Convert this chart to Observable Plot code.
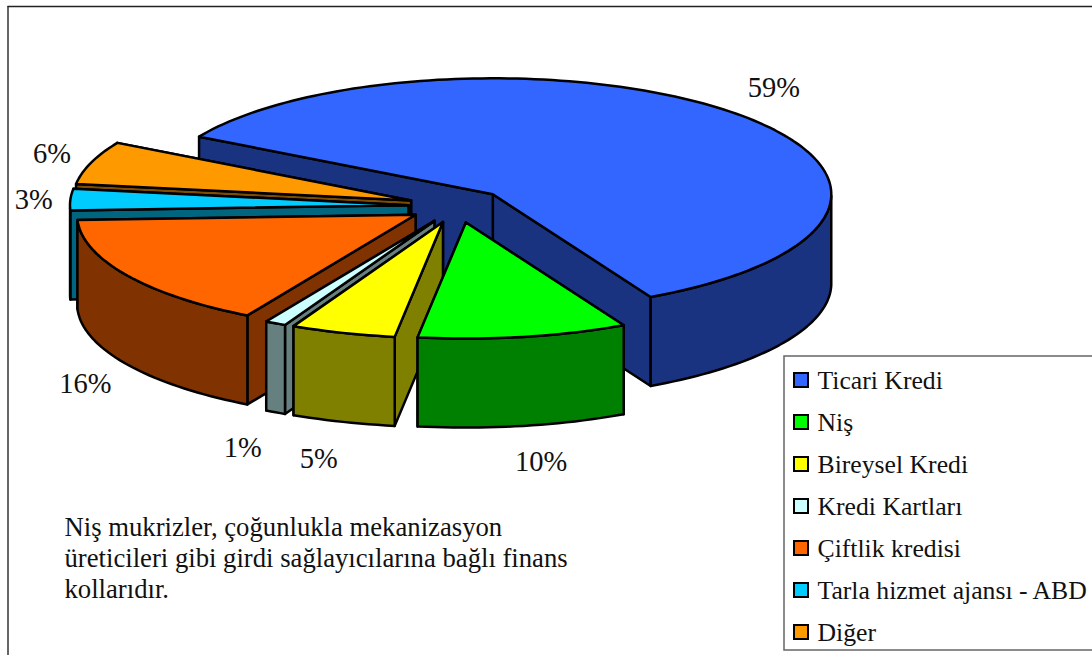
<!DOCTYPE html>
<html lang="tr">
<head>
<meta charset="utf-8">
<style>html,body{margin:0;padding:0;background:#fff;overflow:hidden}svg{display:block}</style>
<script src="https://cdn.jsdelivr.net/npm/d3@7"></script>
<script src="https://cdn.jsdelivr.net/npm/@observablehq/plot@0.6"></script>
</head>
<body>
<div id="chart"></div>
<script>
// Data, clockwise from the back-left edge of the pie
const names = ["Ticari Kredi","Niş","Bireysel Kredi","Kredi Kartları","Çiftlik kredisi","Tarla hizmet ajansı - ABD","Diğer"];
const shares = [59,10,5,1,16,3,6];
const topColors = ["#3366FF","#00FF00","#FFFF00","#CCFFFF","#FF6600","#00CCFF","#FF9900"];
const wallColors = ["#1A3380","#008000","#808000","#668080","#803300","#006680","#804C00"];
const note = ["Niş mukrizler, çoğunlukla mekanizasyon","üreticileri gibi girdi sağlayıcılarına bağlı finans","kollarıdır."];

// Layout of the tilted, exploded pie
const W = 1092, H = 655;
const cx = 457, cy = 205.5, rx = 338.5, ry = 116, depth = 89, explode = 0.145;
const startDeg = -150.2;
const paintOrder = [0,6,5,4,3,2,1];
const labelFactor = 1.15;
const labelNudge = [[1,-14],[9,19],[-9,20],[-9,20],[2,11],[14,1],[9,-3]];
const serif = "Liberation Serif, Times New Roman, serif";

const rad = d => d * Math.PI / 180;
const total = d3.sum(shares);
let acc = startDeg;
const slices = shares.map((v,i) => {
  const a0 = acc, a1 = acc + v / total * 360; acc = a1;
  const m = (a0 + a1) / 2;
  return {i, a0, a1, m,
    ax: cx + rx * explode * Math.cos(rad(m)),
    ay: cy + ry * explode * Math.sin(rad(m))};
});
const rim = (s, d) => [s.ax + rx * Math.cos(rad(d)), s.ay + ry * Math.sin(rad(d))];

const rows = [];
let polyId = 0;
function poly(pts, fill){
  const id = polyId++;
  [...pts, pts[0]].forEach(([x,y]) => rows.push({id, x, y, fill}));
}
for (const i of paintOrder) {
  const s = slices[i];
  const steps = Math.max(4, Math.ceil((s.a1 - s.a0) / 1.5));
  const arc = d3.range(steps + 1).map(k => s.a0 + (s.a1 - s.a0) * k / steps);
  // cut faces
  for (const d of [s.a1, s.a0]) {
    const p = rim(s, d);
    poly([[s.ax,s.ay],p,[p[0],p[1]+depth],[s.ax,s.ay+depth]], wallColors[i]);
  }
  // outer wall: only the front half of the rim (sin > 0)
  const front = arc.filter(d => Math.sin(rad(d)) >= 0);
  if (front.length > 1) {
    const upper = front.map(d => rim(s,d));
    const lower = front.slice().reverse().map(d => { const p = rim(s,d); return [p[0],p[1]+depth]; });
    poly([...upper,...lower], wallColors[i]);
  }
  // top face
  poly([[s.ax,s.ay],...arc.map(d => rim(s,d))], topColors[i]);
}

const labels = slices.map(s => {
  const dn = Math.sin(rad(s.m)) > 0 ? depth : 0;
  return {
    x: s.ax + labelFactor * rx * Math.cos(rad(s.m)) + labelNudge[s.i][0],
    y: s.ay + labelFactor * ry * Math.sin(rad(s.m)) + dn + labelNudge[s.i][1],
    t: shares[s.i] + "%"
  };
});

const legendTop = 380, legendStep = 42;
const legend = names.map((n,i) => ({n, c: topColors[i], y: legendTop + i * legendStep}));
const noteRows = note.map((t,i) => ({t, y: 535 + i * 31}));

const chart = Plot.plot({
  width: W, height: H,
  margin: 0,
  x: {domain:[0,W], range:[0,W], axis:null},
  y: {domain:[0,H], range:[0,H], axis:null},
  color: {type:"identity"},
  style: {background:"#fff"},
  marks: [
    Plot.ruleX([7.5], {y1:6, y2:H, stroke:"#333", strokeWidth:1.5}),
    Plot.ruleY([6], {x1:7.5, x2:W, stroke:"#222", strokeWidth:1.5}),
    Plot.line(rows, {x:"x", y:"y", z:"id", fill:"fill", stroke:"#000", strokeWidth:2.5, strokeLinejoin:"round"}),
    Plot.text(labels, {x:"x", y:"y", text:"t", fontFamily:serif, fontSize:28.5, fill:"#111", textAnchor:"middle", lineAnchor:"middle"}),
    Plot.rect([{}], {x1:()=>784, x2:()=>W+1, y1:()=>356, y2:()=>650, fill:"#fff", stroke:"#666", strokeWidth:1.5}),
    Plot.rect(legend, {x1:()=>794, x2:()=>808, y1:d=>d.y-7, y2:d=>d.y+7, fill:"c", stroke:"#000", strokeWidth:2}),
    Plot.text(legend, {x:()=>817, y:"y", text:"n", fontFamily:serif, fontSize:25.7, fill:"#111", textAnchor:"start", lineAnchor:"middle"}),
    Plot.text(noteRows, {x:()=>64, y:"y", text:"t", fontFamily:serif, fontSize:26.7, fill:"#111", textAnchor:"start", lineAnchor:"bottom"})
  ]
});
document.getElementById("chart").append(chart);
</script>
</body>
</html>
